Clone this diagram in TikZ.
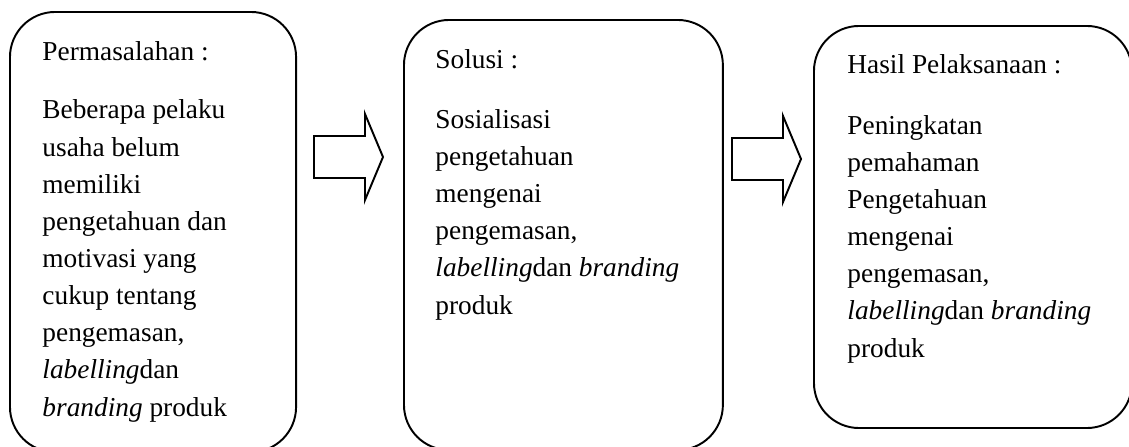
\documentclass[tikz,border=0pt]{standalone}
\usepackage{fontspec}
\setmainfont{Liberation Serif}
\usetikzlibrary{positioning}
\tikzset{
  panel/.style ={draw=black,line width=0.85pt,rounded corners=19.8pt,
                 anchor=north west,inner sep=0pt},
  ttl/.style   ={anchor=base west,inner sep=0pt,font=\fontsize{12}{16.3}\selectfont},
  txt/.style   ={ttl,align=left},
  barrow/.style={draw=black,line width=0.85pt,line join=miter},
}
\newcommand{\blockarrow}[1]{%
\begin{scope}[shift={#1}]
 \draw[barrow] (0,-21) -- (51,-21) -- (51,-43) -- (69,0) -- (51,43) -- (51,21)
   -- (0,21) -- cycle;
\end{scope}}

\begin{document}
\begin{tikzpicture}[x=0.439pt,y=-0.439pt]
 \useasboundingbox (0,0) rectangle (1129,446);
 % boxes
 \node[panel,minimum width=125.6pt,minimum height=193.2pt] (prob) at (9,11) {};
 \node[panel,minimum width=140.0pt,minimum height=188.8pt] (sol) at (403,19) {};
 \node[panel,minimum width=139.6pt,minimum height=176.5pt] (hasil) at (813,25) {};
 % texts (body nodes sit on the baseline of their last line)
 \node[ttl] (probttl) at (42,60) {Permasalahan :};
 \node[txt] (probtxt) at (42,416) {Beberapa pelaku\\usaha belum\\memiliki\\
   pengetahuan dan\\motivasi yang\\cukup tentang\\pengemasan,\\
   \textit{labelling}dan\\\textit{branding} produk};
 \node[ttl] (solttl) at (435,68) {Solusi :};
 \node[txt] (soltxt) at (435,314) {Sosialisasi\\pengetahuan\\mengenai\\
   pengemasan,\\\textit{labelling}dan \textit{branding}\\produk};
 \node[ttl] (hasilttl) at (847,73) {Hasil Pelaksanaan :};
 \node[txt] (hasiltxt) at (847,357) {Peningkatan\\pemahaman\\Pengetahuan\\
   mengenai\\pengemasan,\\\textit{labelling}dan \textit{branding}\\produk};
 % arrows
 \blockarrow{(314,157)}
 \blockarrow{(732,159)}
\end{tikzpicture}
\end{document}
